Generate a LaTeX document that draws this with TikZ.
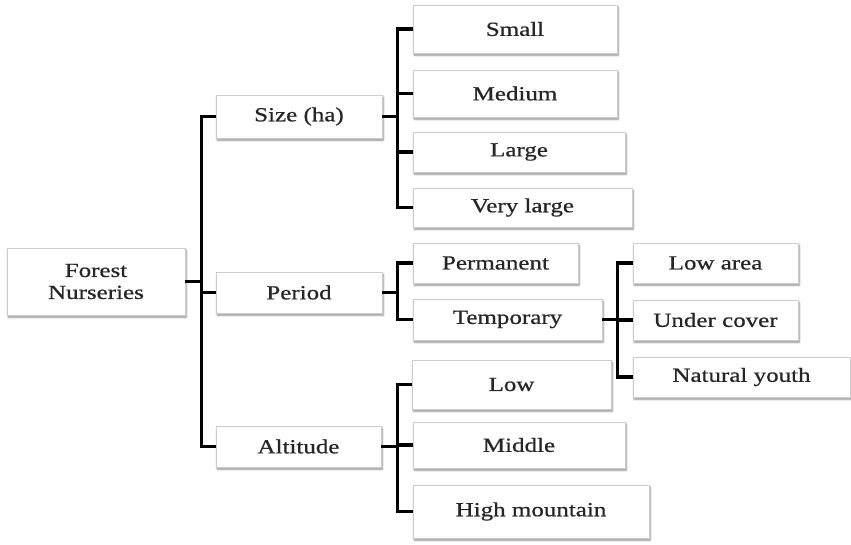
\documentclass[tikz,border=0pt]{standalone}
\usepackage{fontspec}
\setmainfont{Liberation Serif}[FakeStretch=1.25,FakeBold=0.7]
\usetikzlibrary{shadows.blur}
\tikzset{
  box/.style={draw=black!20, line width=0.6pt, fill=white, rectangle,
    inner sep=0pt, text=black!85, align=center,
    font=\fontsize{20}{22}\selectfont,
    blur shadow={shadow xshift=1.2pt, shadow yshift=-2.2pt,
      shadow blur steps=6, shadow blur radius=2pt, shadow opacity=45}},
  conn/.style={draw=black, line width=3.6pt, line join=miter}
}
\newcommand{\boxat}[6]{% name, cx, cy, width, height, text
  \node[box, minimum width=#4pt, minimum height=#5pt] (#1) at (#2,#3) {#6};}
\begin{document}
\begin{tikzpicture}[x=1pt,y=-1pt]
  \useasboundingbox (0,0) rectangle (851,544);

  % root and first level
  \boxat{root}{96}{281.5}{178}{67}{Forest\\Nurseries}
  \boxat{size}{299}{116.5}{166}{43}{Size (ha)}
  \boxat{period}{299}{292.5}{166}{41}{Period}
  \boxat{altitude}{298.5}{446.5}{165}{41}{Altitude}

  % size classes
  \boxat{small}{515}{29}{204}{48}{Small}
  \boxat{medium}{515}{93.5}{204}{47}{Medium}
  \boxat{large}{519}{152}{212}{40}{Large}
  \boxat{verylarge}{522.5}{207.5}{219}{39}{Very large}

  % period classes
  \boxat{permanent}{495.5}{263}{165}{40}{Permanent}
  \boxat{temporary}{507.5}{319.5}{189}{41}{Temporary}

  % temporary nursery types
  \boxat{lowarea}{715.5}{263}{165}{40}{Low area}
  \boxat{undercover}{715.5}{320}{165}{40}{Under cover}
  \boxat{natural}{741.5}{377}{217}{40}{Natural youth}

  % altitude classes
  \boxat{low}{511.5}{384.5}{199}{49}{Low}
  \boxat{middle}{519}{445}{212}{46}{Middle}
  \boxat{high}{531}{511.5}{236}{53}{High mountain}

  % trunk from the root
  \draw[conn] (root.east) -- ++(16,0) coordinate (t0);
  \foreach \c in {size,period,altitude} \draw[conn] (\c.west) -| (t0);

  % size bracket
  \draw[conn] (size.east) -- ++(15,0) coordinate (t1);
  \foreach \c in {small,medium,large,verylarge} \draw[conn] (\c.west) -| (t1);

  % period bracket
  \draw[conn] (period.east) -- ++(15,0) coordinate (t2);
  \foreach \c in {permanent,temporary} \draw[conn] (\c.west) -| (t2);

  % temporary bracket
  \draw[conn] (temporary.east) -- ++(15,0) coordinate (t3);
  \foreach \c in {lowarea,undercover,natural} \draw[conn] (\c.west) -| (t3);

  % altitude bracket
  \draw[conn] (altitude.east) -- ++(16,0) coordinate (t4);
  \foreach \c in {low,middle,high} \draw[conn] (\c.west) -| (t4);
\end{tikzpicture}
\end{document}
